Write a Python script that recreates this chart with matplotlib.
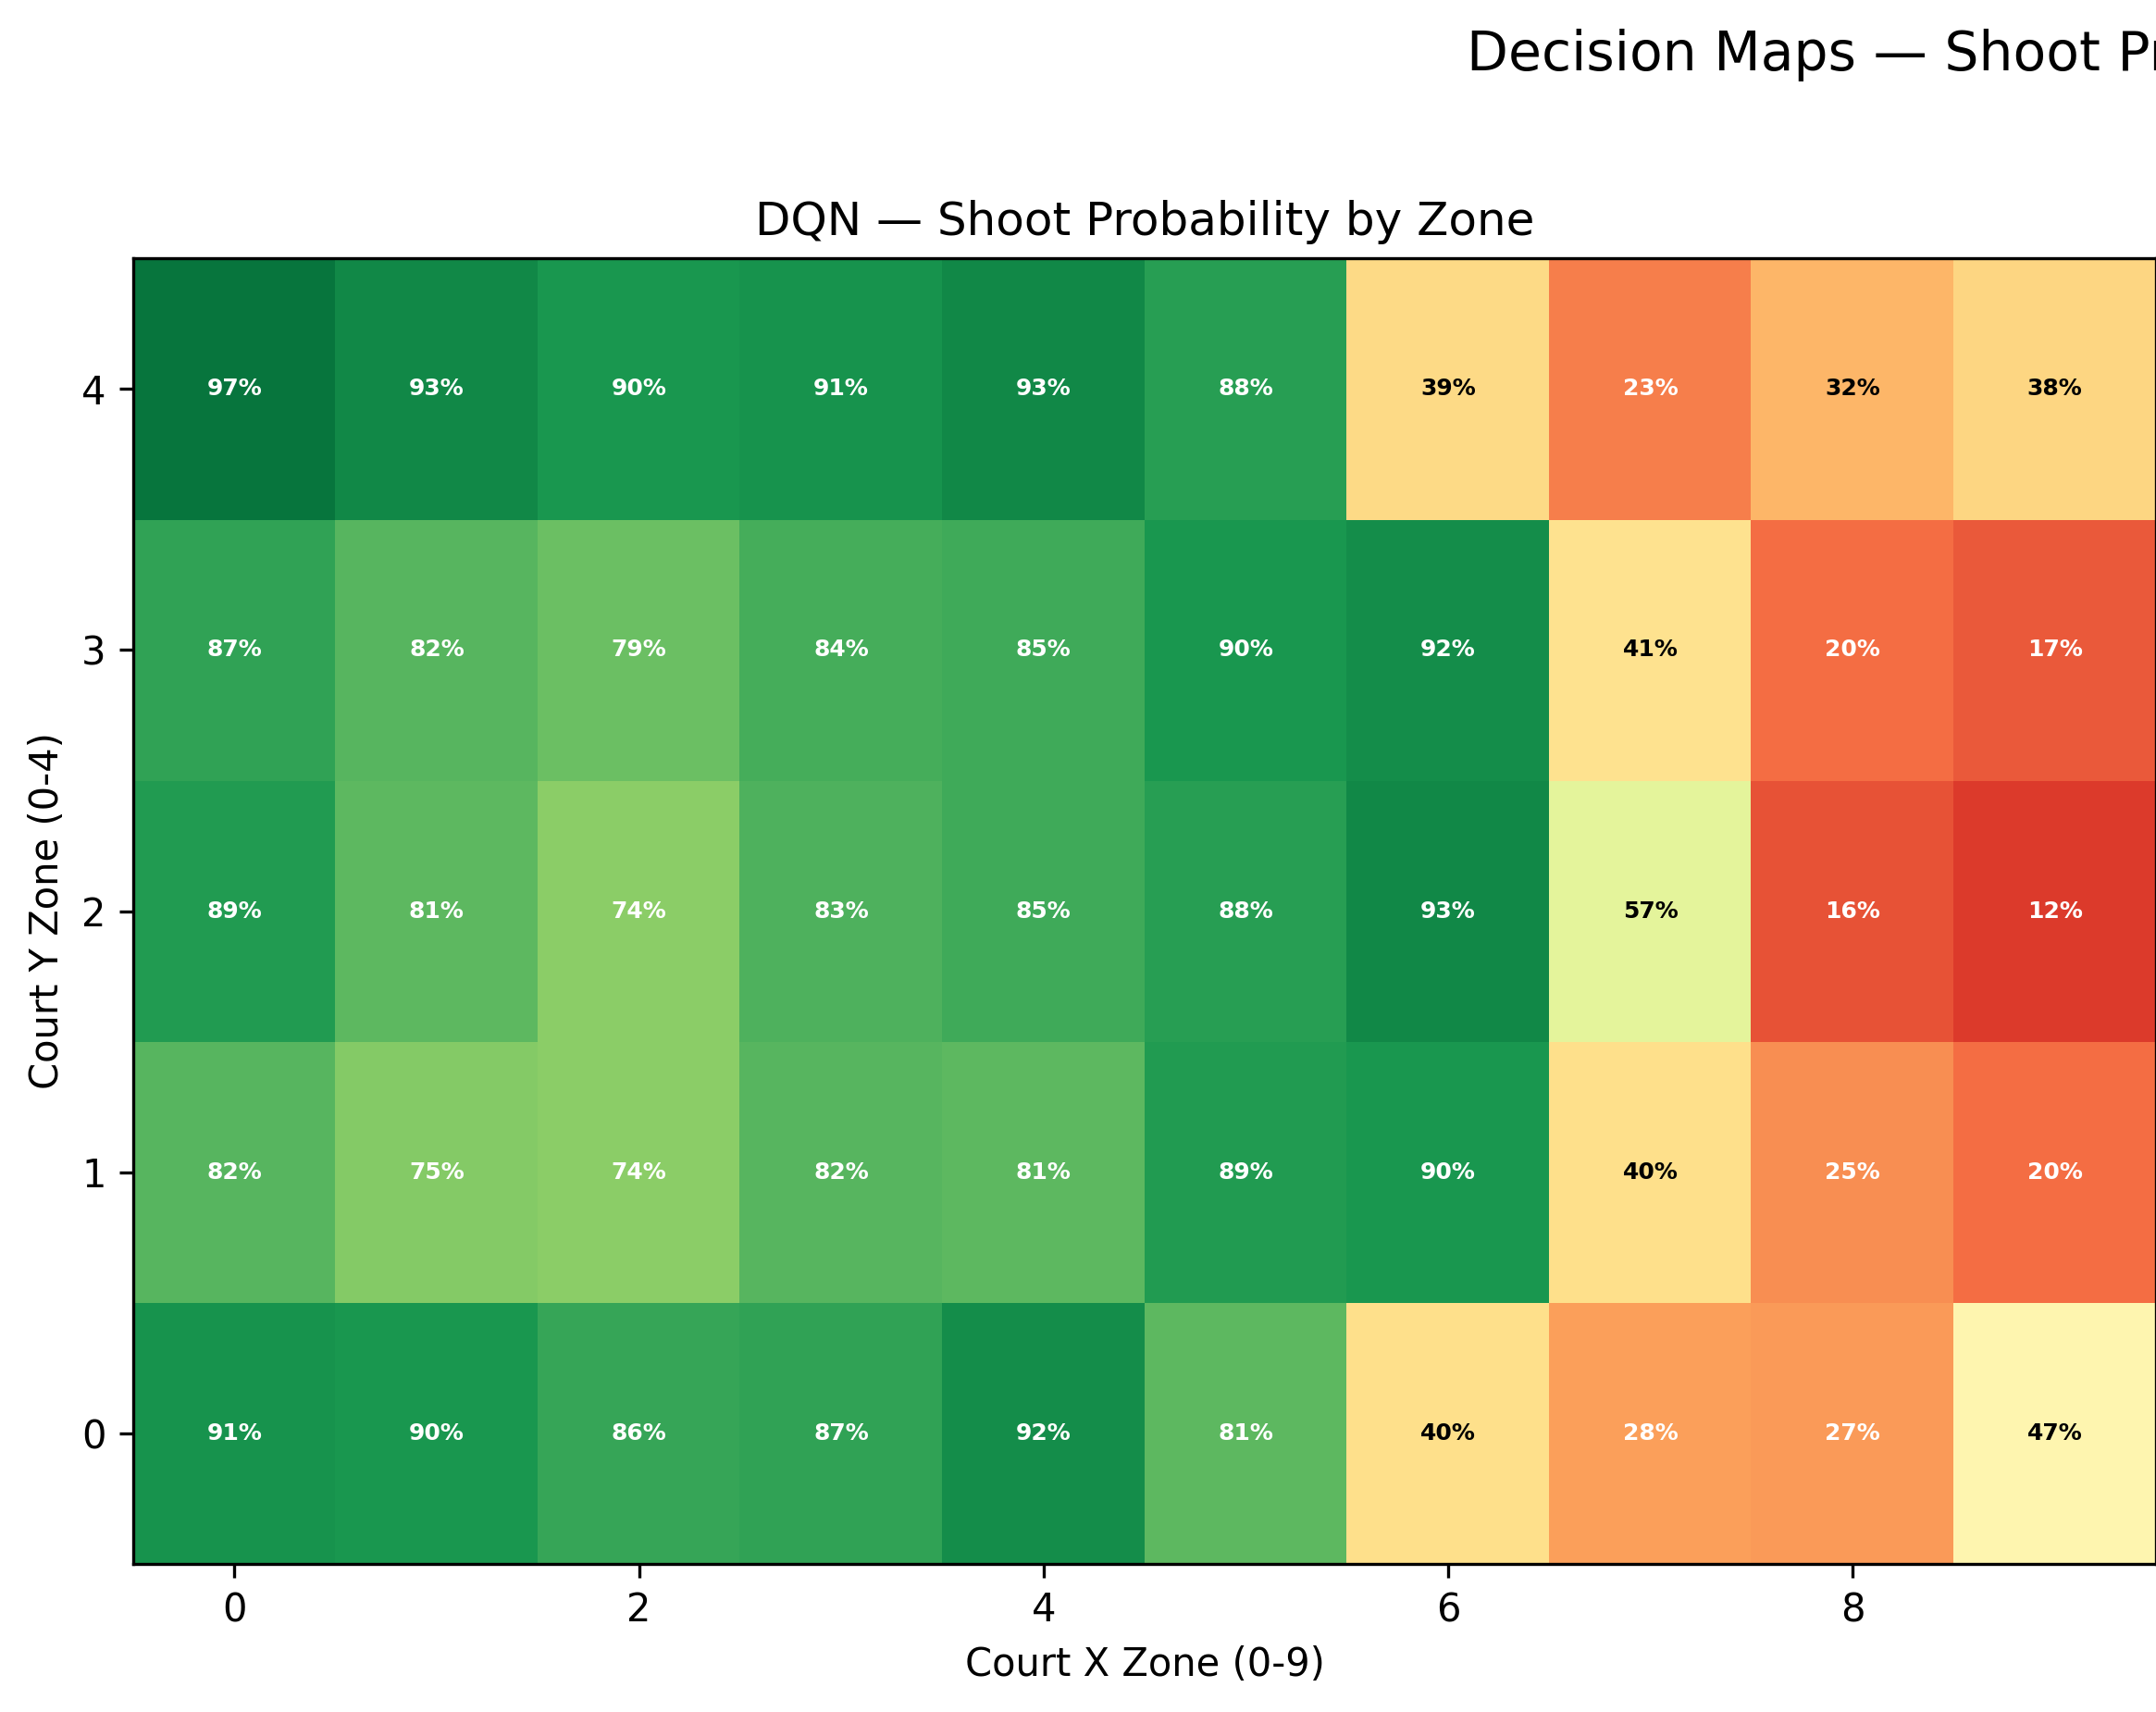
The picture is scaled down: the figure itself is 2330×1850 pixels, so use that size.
import numpy as np
import matplotlib
matplotlib.use('Agg')
import matplotlib.pyplot as plt

# shoot probability per zone, rows are court y = 0..4, columns court x = 0..9
y_zones = [0, 1, 2, 3, 4]
x_zones = list(range(10))
shoot_y0 = [0.91, 0.90, 0.86, 0.87, 0.92, 0.81, 0.40, 0.28, 0.27, 0.47]
shoot_y1 = [0.82, 0.75, 0.74, 0.82, 0.81, 0.89, 0.90, 0.40, 0.25, 0.20]
shoot_y2 = [0.89, 0.81, 0.74, 0.83, 0.85, 0.88, 0.93, 0.57, 0.16, 0.12]
shoot_y3 = [0.87, 0.82, 0.79, 0.84, 0.85, 0.90, 0.92, 0.41, 0.20, 0.17]
shoot_y4 = [0.97, 0.93, 0.90, 0.91, 0.93, 0.88, 0.39, 0.23, 0.32, 0.38]

probs = np.array([shoot_y0, shoot_y1, shoot_y2, shoot_y3, shoot_y4])

fig = plt.figure(figsize=(2330 / 300, 1850 / 300), dpi=300)
ax = fig.add_axes([144 / 2330, 1 - 1690 / 1850, 1 - 144 / 2330, (1690 - 279) / 1850])

ax.imshow(probs, cmap='RdYlGn', vmin=0, vmax=1, origin='lower', aspect='auto')

for yi in y_zones:
    for xi in x_zones:
        v = probs[yi, xi]
        color = 'white' if (v > 0.7 or v < 0.3) else 'black'
        ax.text(xi, yi, f'{v * 100:.0f}%', ha='center', va='center',
                fontsize=6, fontweight='bold', color=color)

ax.set_xticks([0, 2, 4, 6, 8])
ax.set_yticks(y_zones)
ax.set_xlabel('Court X Zone (0-9)')
ax.set_ylabel('Court Y Zone (0-4)')
ax.set_title('DQN — Shoot Probability by Zone', fontsize=12)

# the figure title runs past the right edge, as in the original crop
fig.text(1585 / 2330, 1 - 76 / 1850, 'Decision Maps — Shoot Probability',
         fontsize=14, ha='left', va='baseline')

fig.savefig('out.png', dpi=300)
